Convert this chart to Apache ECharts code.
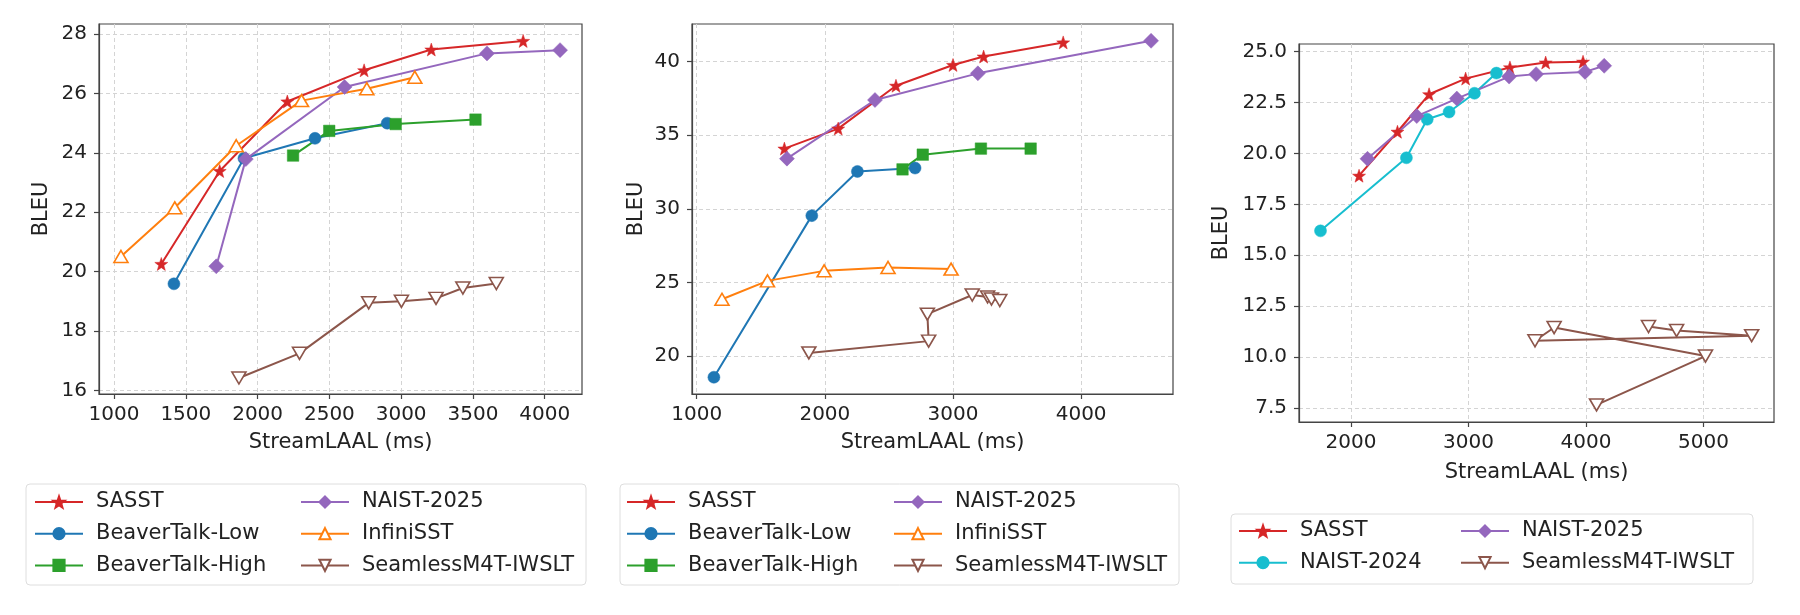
<!DOCTYPE html>
<html>
<head>
<meta charset="utf-8">
<script src="https://cdn.jsdelivr.net/npm/echarts@6/dist/echarts.min.js"></script>
<style>html,body{margin:0;padding:0;background:#fff;}#c{width:1800px;height:615px;}</style>
</head>
<body>
<div id="c"></div>
<script>
// ---------- Panel 1 data ----------
const p1SASST = [[1329,20.26],[1736,23.39],[2207,25.73],[2742,26.78],[3210,27.48],[3850,27.77]];
const p1BeaverLow = [[1417,19.59],[1905,23.82],[2400,24.49],[2903,25.0]];
const p1BeaverHigh = [[2247,23.91],[2499,24.74],[2962,24.97],[3518,25.12]];
const p1NAIST25 = [[1712,20.18],[1918,23.79],[2606,26.22],[3598,27.35],[4107,27.46]];
const p1InfiniSST = [[1048,20.51],[1423,22.15],[1851,24.24],[2306,25.76],[2761,26.16],[3095,26.55]];
const p1Seamless = [[1870,16.42],[2292,17.25],[2774,18.95],[3002,19.0],[3243,19.1],[3430,19.45],[3663,19.6]];
// ---------- Panel 2 data ----------
const p2SASST = [[1684,34.09],[2104,35.45],[2555,38.36],[3000,39.77],[3239,40.34],[3860,41.3]];
const p2BeaverLow = [[1134,18.57],[1898,29.54],[2254,32.54],[2704,32.77]];
const p2BeaverHigh = [[2606,32.68],[2764,33.68],[3218,34.09],[3606,34.09]];
const p2NAIST25 = [[1704,33.41],[2391,37.39],[3194,39.2],[4546,41.41]];
const p2InfiniSST = [[1197,23.86],[1552,25.11],[1994,25.79],[2493,26.02],[2985,25.91]];
const p2Seamless = [[1875,20.22],[2810,21.02],[2800,22.85],[3150,24.15],[3270,24.02],[3300,23.88],[3365,23.78]];
// ---------- Panel 3 data ----------
const p3SASST = [[2069,18.91],[2396,21.07],[2665,22.91],[2976,23.68],[3353,24.23],[3657,24.47],[3975,24.51]];
const p3NAIST24 = [[1741,16.2],[2472,19.79],[2649,21.68],[2835,22.04],[3051,22.96],[3238,23.95]];
const p3NAIST25 = [[2141,19.74],[2560,21.84],[2901,22.7],[3346,23.78],[3576,23.9],[3992,24.01],[4155,24.31]];
const p3Seamless = [[4090,7.65],[5017,10.05],[3729,11.45],[3566,10.8],[5410,11.05],[4771,11.3],[4532,11.5]];
// ---------- ticks ----------
const p1XTicks = [1000,1500,2000,2500,3000,3500,4000];
const p1YTicks = [16,18,20,22,24,26,28];
const p2XTicks = [1000,2000,3000,4000];
const p2YTicks = [20,25,30,35,40];
const p3XTicks = [2000,3000,4000,5000];
const p3YTicks = [7.5,10,12.5,15,17.5,20,22.5,25];
const xTitle = 'StreamLAAL (ms)';
const yTitle = 'BLEU';

const FONT = 'DejaVu Sans';
const TXT = '#222';
const STAR = 'path://M0,-10L2.35,-3.24L9.51,-3.09L3.8,1.24L5.88,8.09L0,4.2L-5.88,8.09L-3.8,1.24L-9.51,-3.09L-2.35,-3.24Z';
const styles = {
  'SASST': {color:'#d62728', symbol:STAR, size:13, open:false},
  'BeaverTalk-Low': {color:'#1f77b4', symbol:'circle', size:12, open:false},
  'BeaverTalk-High': {color:'#2ca02c', symbol:'rect', size:11.5, open:false},
  'NAIST-2025': {color:'#9467bd', symbol:'diamond', size:15, open:false},
  'InfiniSST': {color:'#ff7f0e', symbol:'triangle', size:[14,12], open:true},
  'SeamlessM4T-IWSLT': {color:'#8c564b', symbol:'triangle', size:[14,12], open:true, rotate:180},
  'NAIST-2024': {color:'#17becf', symbol:'circle', size:12, open:false}
};

function mk(name, data, idx) {
  const s = styles[name];
  return {
    type:'line', name:name, data:data, xAxisIndex:idx, yAxisIndex:idx,
    symbol:s.symbol, symbolSize:s.size, symbolRotate:s.rotate||0, showAllSymbol:true,
    lineStyle:{color:s.color, width:2},
    itemStyle:{color:s.open?'#ffffff':s.color, borderColor:s.color, borderWidth:s.open?1.6:0.5},
    emphasis:{disabled:true}, animation:false, clip:false
  };
}

function xAx(idx, min, max, ticks, gap) {
  return {
    type:'value', gridIndex:idx, min:min, max:max,
    name:xTitle, nameLocation:'middle', nameGap:gap,
    nameTextStyle:{fontSize:21, color:TXT, fontFamily:FONT},
    axisLine:{show:true, onZero:false, lineStyle:{color:'#444', width:1.2}},
    axisTick:{show:true, length:5, customValues:ticks, lineStyle:{color:'#444', width:1.2}},
    axisLabel:{customValues:ticks, fontSize:20, margin:11, color:TXT, fontFamily:FONT,
      formatter: v => String(Math.round(v))},
    splitLine:{show:true, lineStyle:{type:[4,3], color:'#d4d4d4', width:1}}
  };
}
function yAx(idx, min, max, ticks, gap, dec) {
  return {
    type:'value', gridIndex:idx, min:min, max:max,
    name:yTitle, nameLocation:'middle', nameGap:gap, nameRotate:90,
    nameTextStyle:{fontSize:21, color:TXT, fontFamily:FONT},
    axisLine:{show:true, onZero:false, lineStyle:{color:'#444', width:1.2}},
    axisTick:{show:true, length:5, customValues:ticks, lineStyle:{color:'#444', width:1.2}},
    axisLabel:{customValues:ticks, fontSize:20, margin:12, color:TXT, fontFamily:FONT,
      formatter: v => dec ? Number(v).toFixed(1) : String(v)},
    splitLine:{show:true, lineStyle:{type:[4,3], color:'#d4d4d4', width:1}}
  };
}
function leg(names, left, top) {
  return {
    data:names, orient:'vertical', left:left, top:top, padding:0,
    itemWidth:48, itemHeight:14, itemGap:9.7, selectedMode:false,
    textStyle:{fontSize:21, color:TXT, fontFamily:FONT, lineHeight:22, padding:[0,0,0,8]}
  };
}
function box(x, y, w, h) {
  return {type:'rect', shape:{x:x, y:y, width:w, height:h, r:4}, style:{fill:'#fff', stroke:'#dedede', lineWidth:1}, z:-10, silent:true};
}

const option = {
  backgroundColor:'#fff',
  animation:false,
  textStyle:{fontFamily:FONT},
  grid:[
    {left:99, top:24, width:483, height:370, show:true, borderColor:'#444', borderWidth:1.2},
    {left:692, top:24, width:481, height:370, show:true, borderColor:'#444', borderWidth:1.2},
    {left:1299, top:44, width:475, height:378, show:true, borderColor:'#444', borderWidth:1.2}
  ],
  xAxis:[
    xAx(0, 895, 4260, p1XTicks, 38),
    xAx(1, 963, 4717, p2XTicks, 38),
    xAx(2, 1558, 5600, p3XTicks, 40)
  ],
  yAxis:[
    yAx(0, 15.88, 28.34, p1YTicks, 47, false),
    yAx(1, 17.43, 42.55, p2YTicks, 45, false),
    yAx(2, 6.81, 25.38, p3YTicks, 67, true)
  ],
  graphic:[box(26,484,560,101), box(620,484,559,101), box(1231,514,522,70)],
  legend:[
    leg(['SASST','BeaverTalk-Low','BeaverTalk-High'], 34, 491),
    leg(['NAIST-2025','InfiniSST','SeamlessM4T-IWSLT'], 300, 491),
    leg(['SASST','BeaverTalk-Low','BeaverTalk-High'], 626, 491),
    leg(['NAIST-2025','InfiniSST','SeamlessM4T-IWSLT'], 893, 491),
    leg(['SASST','NAIST-2024'], 1238, 520),
    leg(['NAIST-2025','SeamlessM4T-IWSLT'], 1460, 520)
  ],
  series:[
    mk('SASST', p1SASST, 0), mk('BeaverTalk-Low', p1BeaverLow, 0), mk('BeaverTalk-High', p1BeaverHigh, 0),
    mk('NAIST-2025', p1NAIST25, 0), mk('InfiniSST', p1InfiniSST, 0), mk('SeamlessM4T-IWSLT', p1Seamless, 0),
    mk('SASST', p2SASST, 1), mk('BeaverTalk-Low', p2BeaverLow, 1), mk('BeaverTalk-High', p2BeaverHigh, 1),
    mk('NAIST-2025', p2NAIST25, 1), mk('InfiniSST', p2InfiniSST, 1), mk('SeamlessM4T-IWSLT', p2Seamless, 1),
    mk('SASST', p3SASST, 2), mk('NAIST-2024', p3NAIST24, 2), mk('NAIST-2025', p3NAIST25, 2),
    mk('SeamlessM4T-IWSLT', p3Seamless, 2)
  ]
};
const chart = echarts.init(document.getElementById('c'), null, {renderer:'canvas'});
chart.setOption(option);
</script>
</body>
</html>
